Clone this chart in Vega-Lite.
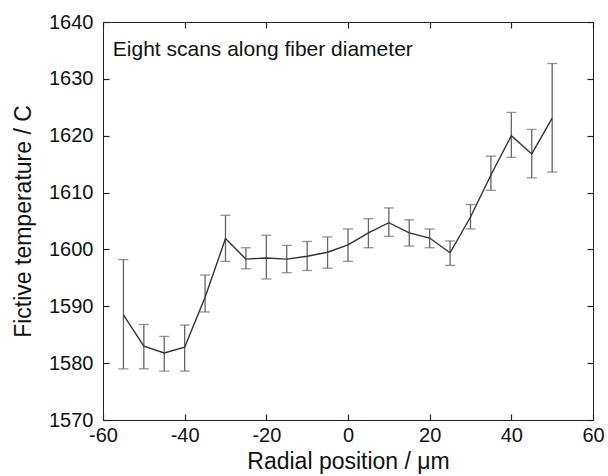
{
  "$schema": "https://vega.github.io/schema/vega-lite/v6.json",
  "autosize": {"type": "none"},
  "padding": {"left": 103, "top": 22, "right": 15, "bottom": 56},
  "width": 490,
  "height": 398,
  "background": "white",
  "config": {
    "view": {"stroke": "#222", "strokeWidth": 1},
    "axis": {
      "grid": false,
      "domain": false,
      "ticks": true,
      "tickColor": "#222",
      "tickSize": 6,
      "tickWidth": 1.2,
      "offset": -6,
      "labelFont": "Liberation Sans",
      "labelFontSize": 20,
      "labelColor": "#111",
      "titleFont": "Liberation Sans",
      "titleFontSize": 23,
      "titleFontWeight": "normal",
      "titleColor": "#111",
      "labelFlush": false,
      "labelOverlap": false,
      "labelBound": false,
      "labelExpr": "'' + datum.value"
    }
  },
  "datasets": {
    "scans": [
      {"x": -55, "t": 1588.5, "lo": 1579.0, "hi": 1598.2},
      {"x": -50, "t": 1583.0, "lo": 1579.0, "hi": 1586.8},
      {"x": -45, "t": 1581.8, "lo": 1578.6, "hi": 1584.7},
      {"x": -40, "t": 1582.8, "lo": 1578.6, "hi": 1586.7},
      {"x": -35, "t": 1591.6, "lo": 1589.0, "hi": 1595.5},
      {"x": -30, "t": 1601.9, "lo": 1597.9, "hi": 1606.0},
      {"x": -25, "t": 1598.3, "lo": 1596.6, "hi": 1600.3},
      {"x": -20, "t": 1598.5, "lo": 1594.8, "hi": 1602.5},
      {"x": -15, "t": 1598.3, "lo": 1595.9, "hi": 1600.7},
      {"x": -10, "t": 1598.8, "lo": 1596.3, "hi": 1601.4},
      {"x": -5, "t": 1599.5, "lo": 1596.7, "hi": 1602.2},
      {"x": 0, "t": 1600.8, "lo": 1597.9, "hi": 1603.6},
      {"x": 5, "t": 1602.9, "lo": 1600.3, "hi": 1605.4},
      {"x": 10, "t": 1604.7, "lo": 1602.3, "hi": 1607.3},
      {"x": 15, "t": 1602.9, "lo": 1600.6, "hi": 1605.2},
      {"x": 20, "t": 1602.0, "lo": 1600.3, "hi": 1603.6},
      {"x": 25, "t": 1599.4, "lo": 1597.2, "hi": 1601.5},
      {"x": 30, "t": 1605.7, "lo": 1603.6, "hi": 1607.9},
      {"x": 35, "t": 1613.1, "lo": 1610.4, "hi": 1616.4},
      {"x": 40, "t": 1620.0, "lo": 1616.2, "hi": 1624.1},
      {"x": 45, "t": 1616.8, "lo": 1612.6, "hi": 1621.1},
      {"x": 50, "t": 1623.1, "lo": 1613.6, "hi": 1632.7}
    ]
  },
  "resolve": {"axis": {"x": "independent", "y": "independent"}},
  "layer": [
    {
      "data": {"name": "scans"},
      "mark": {"type": "rule", "color": "#666", "strokeWidth": 1.3},
      "encoding": {
        "x": {
          "field": "x", "type": "quantitative",
          "scale": {"domain": [-60, 60], "nice": false, "zero": false},
          "axis": {"orient": "bottom", "values": [-60, -40, -20, 0, 20, 40, 60], "labelPadding": 5, "title": "Radial position / μm", "titlePadding": 5}
        },
        "y": {
          "field": "lo", "type": "quantitative",
          "scale": {"domain": [1570, 1640], "nice": false, "zero": false},
          "axis": {"orient": "left", "values": [1570, 1580, 1590, 1600, 1610, 1620, 1630, 1640], "labelPadding": 10, "title": "Fictive temperature / C", "titlePadding": 13}
        },
        "y2": {"field": "hi"}
      }
    },
    {
      "data": {"name": "scans"},
      "mark": {"type": "tick", "orient": "horizontal", "color": "#666", "size": 10, "thickness": 1.3},
      "encoding": {
        "x": {"field": "x", "type": "quantitative", "axis": null},
        "y": {"field": "lo", "type": "quantitative", "axis": null}
      }
    },
    {
      "data": {"name": "scans"},
      "mark": {"type": "tick", "orient": "horizontal", "color": "#666", "size": 10, "thickness": 1.3},
      "encoding": {
        "x": {"field": "x", "type": "quantitative", "axis": null},
        "y": {"field": "hi", "type": "quantitative", "axis": null}
      }
    },
    {
      "data": {"name": "scans"},
      "mark": {"type": "line", "color": "#333", "strokeWidth": 1.4},
      "encoding": {
        "x": {"field": "x", "type": "quantitative", "axis": {"orient": "top", "values": [-60, -40, -20, 0, 20, 40, 60], "labels": false, "title": null}},
        "y": {"field": "t", "type": "quantitative", "axis": {"orient": "right", "values": [1570, 1580, 1590, 1600, 1610, 1620, 1630, 1640], "labels": false, "title": null}}
      }
    },
    {
      "data": {"values": [{}]},
      "mark": {"type": "text", "align": "left", "baseline": "alphabetic", "font": "Liberation Sans", "fontSize": 21, "color": "#111"},
      "encoding": {
        "x": {"datum": -57.6, "type": "quantitative", "axis": null},
        "y": {"datum": 1634, "type": "quantitative", "axis": null},
        "text": {"value": "Eight scans along fiber diameter"}
      }
    }
  ]
}
